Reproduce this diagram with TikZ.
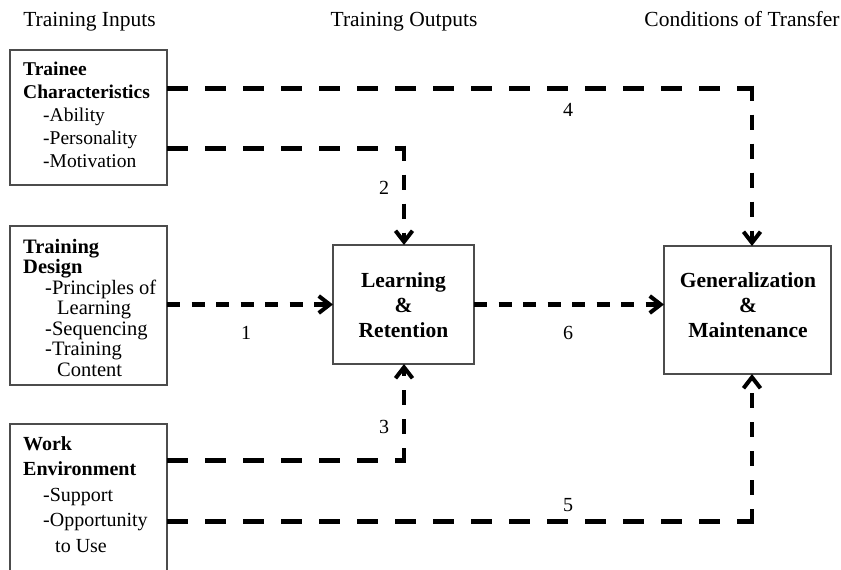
\documentclass[tikz,border=0pt]{standalone}
\usepackage{fontspec}
\setmainfont{Liberation Serif}
\usetikzlibrary{arrows.meta}
\begin{document}
\begin{tikzpicture}[x=1pt,y=-1pt,
  box/.style={rectangle,draw=black!70,line width=1.3pt,inner sep=0pt,outer sep=0pt},
  heading/.style={font=\fontsize{21.5}{24}\selectfont,anchor=base,inner sep=0pt},
  listtext/.style={align=left,anchor=north west,inner sep=0pt},
  centretext/.style={align=center,font=\bfseries\fontsize{21.5}{25}\selectfont,inner sep=0pt},
  num/.style={font=\fontsize{20}{24}\selectfont,inner sep=0pt},
  longdash/.style={line width=5pt,dash pattern=on 21pt off 17pt},
  shortdash/.style={line width=4.5pt,dash pattern=on 13pt off 11.5pt},
  risedash/.style={line width=4pt,dash pattern=on 15pt off 14pt},
  barbtip/.style={-{Straight Barb[length=11pt,width=17pt,line width=4pt]}}
]
\useasboundingbox (0,0) rectangle (841,570);

% column headings
\node[heading] (hIn)  at (89.5,26) {Training Inputs};
\node[heading] (hOut) at (404,26)  {Training Outputs};
\node[heading] (hTr)  at (742,26)  {Conditions of Transfer};

% input boxes
\node[box,minimum width=157pt,minimum height=135pt] (trainee) at (88.5,117.5) {};
\node[box,minimum width=157pt,minimum height=159pt] (design)  at (88.5,305.5) {};
\node[box,minimum width=157pt,minimum height=150pt] (work)    at (88.5,499)   {};

\node[listtext,font=\fontsize{19.5}{23}\selectfont] (traineeText) at (23,62)
  {\textbf{Trainee}\\ \textbf{Characteristics}\\
   \hspace*{20pt}-Ability\\ \hspace*{20pt}-Personality\\ \hspace*{20pt}-Motivation};
\node[listtext,font=\fontsize{20.5}{20.5}\selectfont] (designText) at (23,239)
  {\textbf{Training}\\ \textbf{Design}\\
   \hspace*{22pt}-Principles of\\ \hspace*{34pt}Learning\\
   \hspace*{22pt}-Sequencing\\ \hspace*{22pt}-Training\\ \hspace*{34pt}Content};
\node[listtext,font=\fontsize{20}{25.5}\selectfont] (workText) at (23,436)
  {\textbf{Work}\\ \textbf{Environment}\\
   \hspace*{20pt}-Support\\ \hspace*{20pt}-Opportunity\\ \hspace*{32pt}to Use};

% output boxes
\node[box,minimum width=141pt,minimum height=119pt] (learn) at (403.5,304.5) {};
\node[box,minimum width=167pt,minimum height=128pt] (gen)   at (747.5,310)   {};
\node[centretext] (learnText) at (403.5,305) {Learning\\ \&\\ Retention};
\node[centretext] (genText)   at (748,305)   {Generalization\\ \&\\ Maintenance};

% corner points of the bent connectors
\coordinate (c2) at (404,148);
\coordinate (c3) at (404,460);
\coordinate (c4) at (752,88);
\coordinate (c5) at (752,521);

% 1: design -> learning
\draw[shortdash,barbtip] (design.east |- learn.west) -- (learn.west);
% 6: learning -> generalization
\draw[shortdash,barbtip] (learn.east) -- (learn.east -| gen.west);
% 2: trainee -> learning
\draw[longdash] (trainee.east |- c2) -- ([xshift=2pt]c2);
\draw[risedash,barbtip] ([yshift=2.5pt]c2) -- (c2 |- learn.north);
% 3: work -> learning
\draw[longdash] (work.east |- c3) -- ([xshift=2pt]c3);
\draw[risedash,barbtip] ([yshift=-2.5pt]c3) -- (c3 |- learn.south);
% 4: trainee -> generalization
\draw[longdash] (trainee.east |- c4) -- ([xshift=2pt]c4);
\draw[risedash,barbtip] ([yshift=2.5pt]c4) -- (c4 |- gen.north);
% 5: work -> generalization
\draw[longdash] (work.east |- c5) -- ([xshift=2pt]c5);
\draw[risedash,barbtip] ([yshift=-2.5pt]c5) -- (c5 |- gen.south);

% connector numbers
\node[num] (n1) at (246,333) {1};
\node[num] (n2) at (384,188) {2};
\node[num] (n3) at (384,427) {3};
\node[num] (n4) at (568,110) {4};
\node[num] (n5) at (568,505) {5};
\node[num] (n6) at (568,333) {6};
\end{tikzpicture}
\end{document}
